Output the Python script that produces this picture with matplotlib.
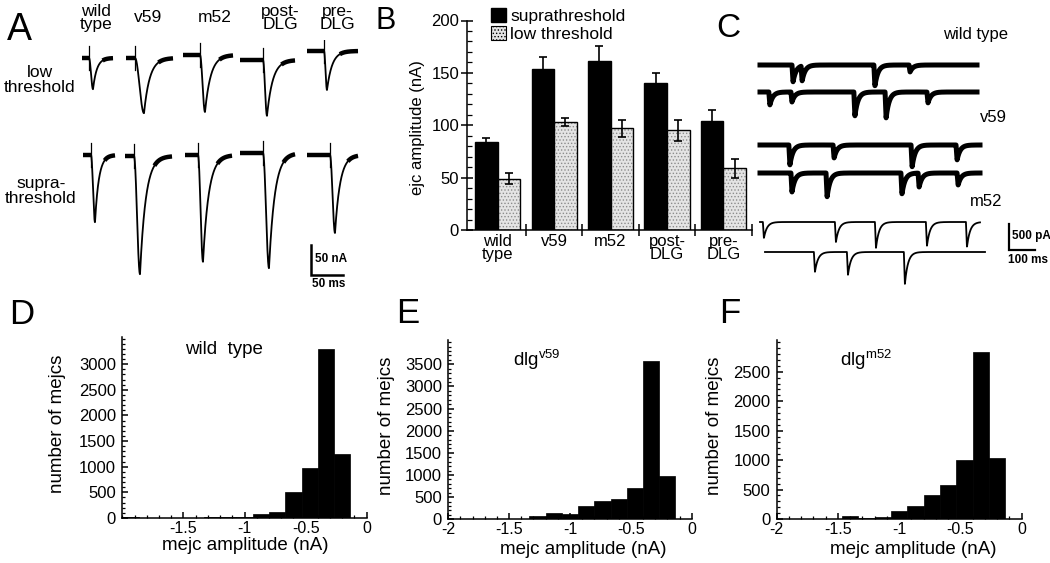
import numpy as np
import matplotlib
matplotlib.use("Agg")
import matplotlib.pyplot as plt
from matplotlib.ticker import MultipleLocator
from matplotlib.patches import Patch

plt.rcParams['font.family'] = ['Liberation Sans', 'DejaVu Sans']
plt.rcParams['axes.unicode_minus'] = False
plt.rcParams['mathtext.fontset'] = 'custom'
plt.rcParams['mathtext.rm'] = 'Liberation Sans'
plt.rcParams['mathtext.it'] = 'Liberation Sans:italic'
plt.rcParams['mathtext.bf'] = 'Liberation Sans:bold'
plt.rcParams['hatch.linewidth'] = 0.6

# ------------------------------------------------------------------ data
genotypes = ["wild\ntype", "v59", "m52", "post-\nDLG", "pre-\nDLG"]

# Panel A: example evoked ejc amplitudes (nA) and decay constants (ms)
ejc_low_example = [52, 92, 95, 93, 65]
ejc_supra_example = [112, 197, 178, 192, 130]
ejc_decay_ms = [6, 9, 9, 9, 8]

# Panel B: mean ejc amplitude (nA) +- sem
supra_mean = [84, 154, 161, 140, 104]
supra_sem = [4, 11, 15, 10, 11]
low_mean = [49, 103, 97, 95, 59]
low_sem = [5, 4, 8, 10, 9]

# Panel C: spontaneous mejc events per trace: peak times (ms) and amplitudes (pA)
mini_labels = ["wild type", "v59", "m52"]
mini_times = [[127, 162, 442, 577],
              [38, 123, 365, 485, 646],
              [115, 285, 585, 758],
              [123, 258, 546, 612, 762],
              [15, 292, 446, 642, 796],
              [192, 319, 538]]
mini_amps = [[327, 288, 404, 135],
             [250, 192, 462, 500, 212],
             [385, 250, 423, 288],
             [365, 462, 404, 269, 231],
             [308, 385, 500, 462, 481],
             [385, 442, 615]]

# Panels D-F: mejc amplitude histograms (15 bins from -2 to 0 nA)
hist_edges = np.linspace(-2.0, 0.0, 16)
counts_wt = [15, 5, 5, 5, 5, 10, 20, 25, 75, 125, 516, 968, 3290, 1239, 0]
counts_v59 = [10, 10, 10, 10, 15, 75, 150, 125, 295, 405, 460, 700, 3570, 985, 0]
counts_m52 = [5, 5, 5, 5, 50, 15, 40, 130, 215, 410, 575, 1000, 2830, 1035, 0]

# ------------------------------------------------------------------ layout
W, H = 1050, 563
fig = plt.figure(figsize=(W / 100, H / 100), dpi=100)


def rect(l, t, r, b):
    return [l / W, 1 - b / H, (r - l) / W, (b - t) / H]


def ftext(x, y, s, **kw):
    return fig.text(x / W, 1 - y / H, s, **kw)


# panel letters
ftext(7, 40, "A", fontsize=27, va='baseline')
ftext(375, 29, "B", fontsize=22, va='baseline')
ftext(716, 37, "C", fontsize=24, va='baseline')
ftext(9, 324, "D", fontsize=25, va='baseline')
ftext(396, 323, "E", fontsize=25, va='baseline')
ftext(719, 323, "F", fontsize=25, va='baseline')

# ------------------------------------------------------------------ Panel A
axA = fig.add_axes(rect(75, 40, 365, 290))
PXMS_A, PXNA_A = 0.64, 0.6
axA.set_xlim(0, 290 / PXMS_A)
axA.set_ylim(-250 / PXNA_A, 0)
axA.axis('off')


def ax_x(px):
    return (px - 75) / PXMS_A


def ax_y(py):
    return -(py - 40) / PXNA_A


# (start px, stim px, peak px, end px, baseline py)
lay_low = [(82, 89, 93, 113, 58), (126, 135, 144, 173, 58), (183, 200, 205, 233, 55),
           (240, 263, 267, 295, 60), (307, 324, 327, 358, 51)]
lay_supra = [(83, 91, 95, 115, 155), (125, 134, 140, 172, 156), (185, 198, 203, 232, 155),
             (240, 263, 269, 295, 153), (307, 330, 335, 358, 155)]


def draw_ejc(ax, lay, amp, tau):
    s, st, pk, e, b = lay
    t0, ts, tp, t1 = ax_x(s), ax_x(st), ax_x(pk), ax_x(e)
    base = ax_y(b)
    t = np.linspace(t0, t1, 800)
    y = np.full_like(t, base)
    rise = (t > ts) & (t <= tp)
    y[rise] = base - amp * 0.5 * (1 - np.cos(np.pi * (t[rise] - ts) / (tp - ts)))
    dec = t > tp
    y[dec] = base - amp * np.exp(-(t[dec] - tp) / tau)
    ax.plot(t, y, color='black', lw=1.3, solid_capstyle='butt')
    pre = t <= ts
    ax.plot(t[pre], y[pre], color='black', lw=3.2, solid_capstyle='butt')
    tail = t > tp + 2.5 * tau
    ax.plot(t[tail], y[tail], color='black', lw=3.2, solid_capstyle='butt')
    ax.plot([ts, ts], [base + 20, base - 20], color='black', lw=0.9)


for i in range(5):
    draw_ejc(axA, lay_low[i], ejc_low_example[i], ejc_decay_ms[i])
    draw_ejc(axA, lay_supra[i], ejc_supra_example[i], ejc_decay_ms[i])

# scale bar 50 nA / 50 ms
sx, sy = ax_x(311), ax_y(275)
axA.plot([sx, sx, sx + 50], [sy + 50, sy, sy], color='black', lw=1.8,
         solid_joinstyle='miter')
ftext(315, 259, "50 nA", fontsize=8.5, fontweight='bold', va='center')
ftext(312, 284, "50 ms", fontsize=8.5, fontweight='bold', va='center')

# column / row labels
col_x = [96, 148, 215, 280, 337]
for x, g in zip(col_x, genotypes):
    ftext(x, 18, g, fontsize=12.5, ha='center', va='center', linespacing=0.9)
ftext(40, 80, "low\nthreshold", fontsize=12.5, ha='center', va='center', linespacing=0.95)
ftext(41, 191, "supra-\nthreshold", fontsize=12.5, ha='center', va='center', linespacing=0.95)

# ------------------------------------------------------------------ Panel B
axB = fig.add_axes(rect(466.7, 20.5, 751.7, 230))
xpos = np.arange(len(genotypes))
bw = 0.4
axB.bar(xpos - bw / 2, supra_mean, width=bw, color='black', edgecolor='black',
        lw=1, zorder=2)
axB.bar(xpos + bw / 2, low_mean, width=bw, color='#e4e4e4', edgecolor='#8c8c8c',
        hatch='.....', lw=0, zorder=2)
axB.bar(xpos + bw / 2, low_mean, width=bw, fill=False, edgecolor='black', lw=1,
        zorder=3)
axB.errorbar(xpos - bw / 2, supra_mean, yerr=supra_sem, fmt='none', ecolor='black',
             elinewidth=1.2, capsize=3, capthick=1.2, zorder=4)
axB.errorbar(xpos + bw / 2, low_mean, yerr=low_sem, fmt='none', ecolor='black',
             elinewidth=1.2, capsize=3, capthick=1.2, zorder=4)
axB.set_xlim(-0.55, 4.5)
axB.set_ylim(0, 200)
for sp in ['top', 'right']:
    axB.spines[sp].set_visible(False)
for sp in ['left', 'bottom']:
    axB.spines[sp].set_linewidth(1.1)
axB.set_yticks([0, 50, 100, 150, 200])
axB.yaxis.set_minor_locator(MultipleLocator(10))
axB.tick_params(axis='y', which='major', direction='inout', length=9, width=1.1,
                labelsize=12, pad=1)
axB.tick_params(axis='y', which='minor', direction='in', length=3.5, width=0.9)
axB.set_xticks(xpos)
axB.set_xticklabels(genotypes, linespacing=0.85)
axB.set_xticks([0.5, 1.5, 2.5, 3.5, 4.5], minor=True)
axB.tick_params(axis='x', which='major', length=0, labelsize=12, pad=3)
axB.tick_params(axis='x', which='minor', direction='inout', length=9, width=1.1)
axB.set_ylabel("ejc amplitude (nA)", fontsize=12)
axB.yaxis.set_label_coords(-0.146, 0.49)

h_low = Patch(facecolor='#e4e4e4', edgecolor='black', hatch='.....', lw=0.8)
h_sup = Patch(facecolor='black', edgecolor='black')
fig.legend([h_sup, h_low], ['suprathreshold', 'low threshold'], loc='upper left',
           bbox_to_anchor=(491 / W, 1 - 8 / H), frameon=False, fontsize=12.5,
           handlelength=0.85, handleheight=0.85, handletextpad=0.25,
           labelspacing=0.1, borderpad=0, borderaxespad=0)

# ------------------------------------------------------------------ Panel C
axC = fig.add_axes(rect(750, 40, 1050, 290))
PXMS_C, PXPA_C = 0.26, 0.052
axC.set_xlim(0, 300 / PXMS_C)
axC.set_ylim(-250 / PXPA_C, 0)
axC.axis('off')


def cx(px):
    return (px - 750) / PXMS_C


def cy(py):
    return -(py - 40) / PXPA_C


c_start = [760, 760, 760, 760, 760, 765]
c_len = [217, 217, 220, 220, 220, 220]
c_base = [65, 92, 145, 173, 222, 252]
c_lw = [3.6, 3.6, 3.6, 3.6, 1.3, 1.3]
for k in range(6):
    t0 = cx(c_start[k])
    L = c_len[k] / PXMS_C
    t = np.linspace(0, L, 3000)
    y = np.zeros_like(t)
    for tm, a in zip(mini_times[k], mini_amps[k]):
        dt = t - tm
        r = (dt > -4) & (dt <= 0)
        y[r] -= a * (dt[r] + 4) / 4
        d = dt > 0
        y[d] -= a * np.exp(-dt[d] / 12)
    axC.plot(t0 + t, cy(c_base[k]) + y, color='black', lw=c_lw[k],
             solid_joinstyle='round')

ftext(943, 35, mini_labels[0], fontsize=12, va='center')
ftext(980, 117, mini_labels[1], fontsize=12, va='center')
ftext(970, 202, mini_labels[2], fontsize=12, va='center')

qx, qy = cx(1009), cy(250)
axC.plot([qx, qx, qx + 100], [qy + 500, qy, qy], color='black', lw=1.6,
         solid_joinstyle='miter')
ftext(1012, 236, "500 pA", fontsize=8.5, fontweight='bold', va='center')
ftext(1008, 260, "100 ms", fontsize=8.5, fontweight='bold', va='center')


# ------------------------------------------------------------------ Panels D-F
def hist_panel(box, counts, ymax, yticks, xticks, title, title_xy, ylab_x, xlab_xy):
    ax = fig.add_axes(rect(*box))
    ax.bar(hist_edges[:-1], counts, width=np.diff(hist_edges), align='edge',
           color='black', edgecolor='black', lw=0.5)
    ax.set_xlim(-2, 0)
    ax.set_ylim(0, ymax)
    for sp in ['top', 'right']:
        ax.spines[sp].set_visible(False)
    for sp in ['left', 'bottom']:
        ax.spines[sp].set_linewidth(1.1)
    ax.set_yticks(yticks)
    ax.set_xticks(xticks)
    ax.set_xticklabels([('%g' % v) for v in xticks])
    ax.xaxis.set_minor_locator(MultipleLocator(0.1))
    ax.yaxis.set_minor_locator(MultipleLocator(100))
    ax.tick_params(which='major', direction='in', length=4.5, width=1.1,
                   labelsize=12, pad=4.5)
    ax.tick_params(axis='x', which='major', labelsize=11.5, pad=2.3)
    ax.tick_params(which='minor', direction='in', length=2.5, width=0.9)
    ax.set_ylabel("number of mejcs", fontsize=13.5)
    l, t, r, b = box
    ax.yaxis.set_label_coords((ylab_x - l) / (r - l), 0.52)
    ax.set_xlabel("mejc amplitude (nA)", fontsize=13.5)
    ax.xaxis.label.set_va('center')
    ax.xaxis.set_label_coords((xlab_xy[0] - l) / (r - l), (b - xlab_xy[1]) / (b - t))
    ftext(title_xy[0], title_xy[1], title, fontsize=13.5, ha='center', va='center')
    return ax


hist_panel((122.3, 337, 366.7, 518), counts_wt, 3530, range(0, 3001, 500),
           [-1.5, -1, -0.5, 0], "wild  type", (224, 350), 66, (245, 546))
hist_panel((448.3, 340, 691.7, 519.3), counts_v59, 4050, range(0, 3501, 500),
           [-2, -1.5, -1, -0.5, 0], r"dlg$^{\rm v59}$", (537, 360), 395, (583, 550))
hist_panel((776.7, 340, 1021.7, 519), counts_m52, 3040, range(0, 2501, 500),
           [-2, -1.5, -1, -0.5, 0], r"dlg$^{\rm m52}$", (866, 360), 723, (913, 550))

fig.savefig("out.png", dpi=100)
